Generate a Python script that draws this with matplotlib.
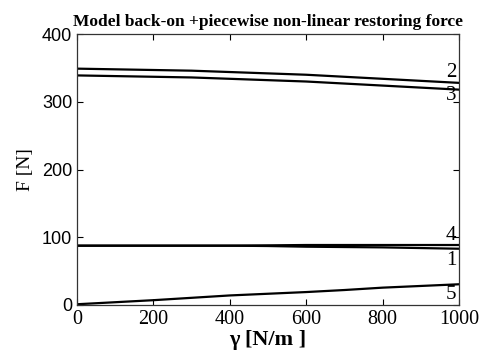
import matplotlib
matplotlib.use('Agg')
import matplotlib.pyplot as plt

gamma = [0, 100, 200, 300, 400, 500, 600, 700, 800, 900, 1000]
f2 = [349, 348, 347, 346, 344, 342, 340, 337, 334, 331, 328]
f3 = [339, 338, 337, 336, 334, 332, 330, 327, 324, 321, 318]
f4 = [87.5, 87.5, 87.5, 87.5, 87.5, 88, 88.5, 88.5, 88.5, 88.5, 88.5]
f1 = [87.5, 87.5, 87.5, 87.5, 87.5, 87, 86, 85.5, 85, 84, 83]
f5 = [1, 4, 7, 10.5, 14, 16.5, 19, 22, 25.5, 28, 30.5]

curves = [f1, f2, f3, f4, f5]
labels = ['1', '2', '3', '4', '5']
label_y = [66, 344, 310, 102, 15]

serif = 'Liberation Serif'
sans = 'Liberation Sans'

fig = plt.figure(figsize=(4.82, 3.63), dpi=100)
ax = fig.add_axes([0.160, 0.160, 0.792, 0.746])

for f in curves:
    ax.plot(gamma, f, color='black', lw=1.6)

for lab, y in zip(labels, label_y):
    ax.text(993, y, lab, ha='right', va='center', family=serif, fontsize=15)

ax.set_xlim(0, 1000)
ax.set_ylim(0, 400)
ax.set_xticks([0, 200, 400, 600, 800, 1000])
ax.set_yticks([0, 100, 200, 300, 400])
ax.tick_params(direction='in', top=True, right=True, length=4, width=0.8)
for t in ax.get_xticklabels():
    t.set_family(serif)
    t.set_fontsize(14.5)
for t in ax.get_yticklabels():
    t.set_family(sans)
    t.set_fontsize(13)
for s in ax.spines.values():
    s.set_color('#333333')
    s.set_linewidth(0.9)

ax.set_title('Model back-on +piecewise non-linear restoring force',
             family=serif, fontsize=12.5, fontweight='bold', pad=6)
ax.set_xlabel('γ [N/m ]', family=serif, fontsize=16, fontweight='bold', labelpad=1)
ax.set_ylabel('F [N]', family=serif, fontsize=14, labelpad=6)

fig.savefig('out.png', dpi=100)
